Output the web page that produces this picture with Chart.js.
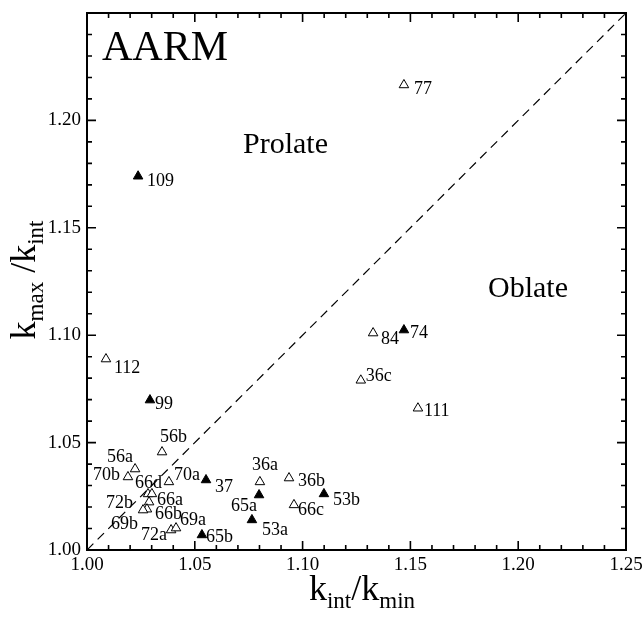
<!DOCTYPE html>
<html><head><meta charset="utf-8">
<script src="https://cdn.jsdelivr.net/npm/chart.js@4"></script>
<style>html,body{margin:0;padding:0;background:#fff}</style>
</head><body>
<canvas id="c" width="644" height="622"></canvas>
<script>
// ---- data ----
const filledNames = ['109','99','74','37','65a','53a','53b','65b'];
const filledX = [1.0237, 1.0292, 1.1470, 1.0552, 1.0798, 1.0765, 1.1099, 1.0533];
const filledY = [1.1740, 1.0698, 1.1024, 1.0326, 1.0256, 1.0140, 1.0261, 1.0070];

const openNames = ['77','112','84','36c','111','56b','56a','70b','70a','66d','66a','72b','66b','69b','72a','69a','36a','36b','66c'];
const openX = [1.1470, 1.0088, 1.1327, 1.1270, 1.1535, 1.0348, 1.0223, 1.0190, 1.0380, 1.0283, 1.0301, 1.0288, 1.0278, 1.0260, 1.0390, 1.0413, 1.0802, 1.0937, 1.0960];
const openY = [1.2165, 1.0889, 1.1010, 1.0790, 1.0660, 1.0456, 1.0377, 1.0340, 1.0317, 1.0261, 1.0261, 1.0223, 1.0190, 1.0186, 1.0093, 1.0102, 1.0317, 1.0335, 1.0210];

const diagX = [1.00, 1.25];
const diagY = [1.00, 1.25];

const xTickLabels = ['1.00','1.05','1.10','1.15','1.20','1.25'];
const yTickLabels = ['1.00','1.05','1.10','1.15','1.20'];

// ---- layout of annotation labels (pixel offsets from marker) ----
const filledLabelOffsets = [[9,5],[5,4],[6,3],[9,7],[-28,11],[10,10],[9,6],[4,2]];
const openLabelOffsets = [[10,4],[8,9],[8,6],[5,-4],[6,3],[-2,-15],[-28,-12],[-35,-2],[5,-7],[-13,-11],[5,6],[-43,1],[8,5],[-32,14],[-30,5],[4,-8],[-8,-17],[9,3],[4,5]];

const SERIF = "'Liberation Serif', 'Times New Roman', serif";
const MINOR_STEP = 0.01;

const toPts = (xs, ys) => xs.map((x, i) => ({x, y: ys[i]}));

const framePlugin = {
  id: 'frame',
  afterDatasetsDraw(chart) {
    const ctx = chart.ctx;
    const a = chart.chartArea;
    const xs = chart.scales.x, ys = chart.scales.y;
    ctx.save();
    ctx.strokeStyle = '#000';
    ctx.lineWidth = 2;
    ctx.strokeRect(a.left, a.top, a.right - a.left, a.bottom - a.top);
    ctx.lineWidth = 1.6;
    const nx = Math.round((xs.max - xs.min) / MINOR_STEP);
    ctx.beginPath();
    for (let k = 0; k <= nx; k++) {
      const px = xs.getPixelForValue(xs.min + k * MINOR_STEP);
      const len = (k % 5 === 0) ? 9 : 5;
      ctx.moveTo(px, a.bottom); ctx.lineTo(px, a.bottom - len);
      ctx.moveTo(px, a.top); ctx.lineTo(px, a.top + len);
    }
    const ny = Math.round((ys.max - ys.min) / MINOR_STEP);
    for (let k = 0; k <= ny; k++) {
      const py = ys.getPixelForValue(ys.min + k * MINOR_STEP);
      const len = (k % 5 === 0) ? 9 : 5;
      ctx.moveTo(a.left, py); ctx.lineTo(a.left + len, py);
      ctx.moveTo(a.right, py); ctx.lineTo(a.right - len, py);
    }
    ctx.stroke();

    // point labels
    ctx.fillStyle = '#000';
    ctx.font = '18px ' + SERIF;
    ctx.textAlign = 'left';
    ctx.textBaseline = 'middle';
    const drawLabels = (dsIndex, names, offs) => {
      const meta = chart.getDatasetMeta(dsIndex);
      meta.data.forEach((el, i) => {
        ctx.fillText(names[i], el.x + offs[i][0], el.y + offs[i][1]);
      });
    };
    drawLabels(1, filledNames, filledLabelOffsets);
    drawLabels(2, openNames, openLabelOffsets);

    // region texts
    ctx.textBaseline = 'alphabetic';
    ctx.font = '42px ' + SERIF;
    ctx.fillText('AARM', a.left + 15, a.top + 47);
    ctx.font = '30px ' + SERIF;
    ctx.fillText('Prolate', 243, 153);
    ctx.fillText('Oblate', 488, 297);

    // axis titles with subscripts
    const drawComposite = (parts, cx, cy, rot) => {
      ctx.save();
      ctx.translate(cx, cy);
      if (rot) ctx.rotate(rot);
      let w = 0;
      parts.forEach(p => { ctx.font = (p.sub ? '23px ' : '36px ') + SERIF; w += ctx.measureText(p.t).width; });
      let x = -w / 2;
      parts.forEach(p => {
        ctx.font = (p.sub ? '23px ' : '36px ') + SERIF;
        ctx.fillText(p.t, x, p.sub ? 8 : 0);
        x += ctx.measureText(p.t).width;
      });
      ctx.restore();
    };
    ctx.textAlign = 'left';
    drawComposite([{t:'k'},{t:'int',sub:true},{t:'/k'},{t:'min',sub:true}], 362, 600, 0);
    drawComposite([{t:'k'},{t:'max',sub:true},{t:' /k'},{t:'int',sub:true}], 35, 280, -Math.PI / 2);
    ctx.restore();
  }
};

new Chart(document.getElementById('c'), {
  type: 'scatter',
  data: {
    datasets: [
      { type: 'line', data: toPts(diagX, diagY), borderColor: '#000', borderWidth: 1.2,
        borderDash: [9, 6], pointRadius: 0, fill: false, order: 3 },
      { data: toPts(filledX, filledY), pointStyle: 'triangle', pointRadius: 5.5,
        backgroundColor: '#000', borderColor: '#000', borderWidth: 1, order: 1 },
      { data: toPts(openX, openY), pointStyle: 'triangle', pointRadius: 5.5,
        backgroundColor: '#fff', borderColor: '#000', borderWidth: 1, order: 2 }
    ]
  },
  options: {
    responsive: false,
    animation: false,
    layout: { padding: { left: 0, right: 18, top: 13, bottom: 0 } },
    plugins: { legend: { display: false }, tooltip: { enabled: false } },
    scales: {
      x: {
        type: 'linear', min: 1.0, max: 1.25,
        grid: { display: false, drawTicks: false },
        border: { display: false },
        ticks: { stepSize: 0.05, padding: 4, color: '#000',
          font: { family: SERIF, size: 19 },
          callback: (v, i) => xTickLabels[i] ?? '' },
        afterFit: s => { s.height = 72; s.paddingLeft = 0; s.paddingRight = 0; }
      },
      y: {
        type: 'linear', min: 1.0, max: 1.25,
        grid: { display: false, drawTicks: false },
        border: { display: false },
        ticks: { stepSize: 0.05, padding: 6, color: '#000',
          font: { family: SERIF, size: 19 },
          callback: (v, i) => yTickLabels[i] ?? '' },
        afterFit: s => { s.width = 87; s.paddingTop = 0; s.paddingBottom = 0; }
      }
    }
  },
  plugins: [framePlugin]
});
</script>
</body></html>
